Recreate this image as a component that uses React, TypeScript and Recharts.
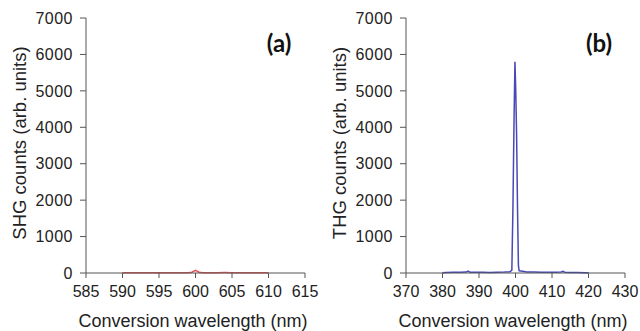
import React from "react";
import { LineChart, Line, XAxis, YAxis } from "recharts";

const shgWavelength = [590, 591, 592, 593, 594, 595, 596, 597, 598, 599, 599.5, 600, 600.5, 601, 602, 603, 604, 605, 606, 607, 608, 609, 610];
const shgCounts = [5, 6, 5, 7, 6, 5, 6, 7, 6, 8, 20, 75, 20, 8, 10, 9, 11, 10, 9, 8, 7, 6, 5];

const thgWavelength = [380, 381, 383, 385, 386.5, 387, 387.5, 389, 391, 393, 395, 397, 398.5, 399, 399.3, 399.6, 399.85, 400.05, 400.3, 400.55, 400.8, 401, 402, 403, 405, 407, 409, 411, 412.5, 413, 413.5, 415, 417, 419, 420];
const thgCounts = [10, 15, 18, 20, 25, 50, 22, 18, 20, 15, 22, 25, 35, 80, 1800, 4200, 5800, 5100, 3800, 1800, 200, 60, 45, 30, 25, 20, 20, 22, 28, 45, 22, 15, 12, 10, 10];

const shgTicks = [585, 590, 595, 600, 605, 610, 615];
const thgTicks = [370, 380, 390, 400, 410, 420, 430];
const yTicks = [0, 1000, 2000, 3000, 4000, 5000, 6000, 7000];

const shgData = shgWavelength.map((w, i) => ({ w, v: shgCounts[i] }));
const thgData = thgWavelength.map((w, i) => ({ w, v: thgCounts[i] }));

const FONT = "Liberation Sans";
const AXIS = "#555";
const FRAME = "#8a8a8a";
const TXT = "#222";

function Panel({ data, ticks, domain, color, yTitle, tag }: any) {
  return (
    <div style={{ position: "relative", width: 320, height: 331 }}>
      <LineChart width={320} height={331} data={data} margin={{ top: 18, right: 15, left: 0, bottom: 0 }}>
        <XAxis
          dataKey="w"
          type="number"
          domain={domain}
          ticks={ticks}
          height={58}
          tickSize={5}
          tickMargin={8}
          stroke={AXIS}
          tickLine={{ stroke: AXIS }}
          tick={{ fill: TXT, fontSize: 16, fontFamily: FONT }}
          allowDataOverflow
        />
        <XAxis xAxisId="top" orientation="top" height={0} tick={false} tickLine={false} stroke={FRAME} />
        <YAxis
          type="number"
          domain={[0, 7000]}
          ticks={yTicks}
          width={86}
          tickSize={6}
          tickMargin={7}
          stroke={AXIS}
          tickLine={{ stroke: AXIS }}
          tick={{ fill: TXT, fontSize: 16, fontFamily: FONT, letterSpacing: 0.5 }}
        />
        <YAxis yAxisId="right" orientation="right" width={0} tick={false} tickLine={false} stroke={FRAME} />
        <Line type="linear" dataKey="v" stroke={color} strokeWidth={1.5} dot={false} isAnimationActive={false} />
      </LineChart>
      <div
        style={{
          position: "absolute",
          left: 20,
          top: 143,
          transform: "translate(-50%, -50%) rotate(-90deg)",
          whiteSpace: "nowrap",
          fontFamily: FONT,
          fontSize: 18.5,
          color: TXT,
        }}
      >
        {yTitle}
      </div>
      <div
        style={{
          position: "absolute",
          left: 193,
          top: 321,
          transform: "translate(-50%, -50%)",
          whiteSpace: "nowrap",
          fontFamily: FONT,
          fontSize: 18,
          color: TXT,
        }}
      >
        Conversion wavelength (nm)
      </div>
      <div
        style={{
          position: "absolute",
          left: 279,
          top: 42,
          transform: "translate(-50%, -50%)",
          whiteSpace: "nowrap",
          fontFamily: "Lato, 'Open Sans', sans-serif",
          fontWeight: 700,
          fontSize: 24,
          color: "#111",
        }}
      >
        {tag}
      </div>
    </div>
  );
}

export default function App() {
  return (
    <div style={{ position: "absolute", left: 0, top: 0, width: 640, height: 331, background: "#fff", display: "flex" }}>
      <Panel data={shgData} ticks={shgTicks} domain={[585, 615]} color="#e05555" yTitle="SHG counts (arb. units)" tag="(a)" />
      <Panel data={thgData} ticks={thgTicks} domain={[370, 430]} color="#4848b8" yTitle="THG counts (arb. units)" tag="(b)" />
    </div>
  );
}
